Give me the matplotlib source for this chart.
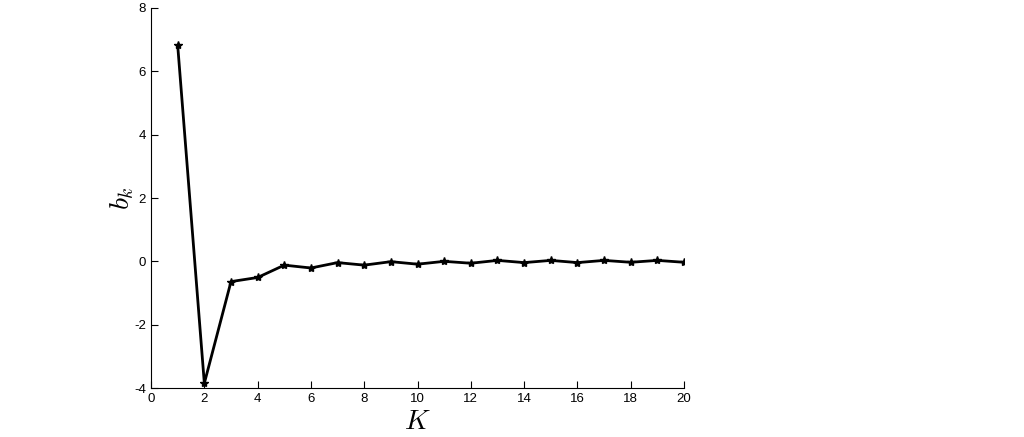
import matplotlib
matplotlib.use('Agg')
import matplotlib.pyplot as plt

# coefficient values
k = list(range(1, 21))
b_k = [6.82, -3.85, -0.64, -0.51, -0.12, -0.21, -0.04, -0.12, -0.01, -0.09,
       0.0, -0.06, 0.03, -0.04, 0.03, -0.04, 0.03, -0.03, 0.03, -0.03]

plt.rcParams['font.family'] = ['Liberation Sans', 'DejaVu Sans']
plt.rcParams['mathtext.fontset'] = 'cm'
plt.rcParams['axes.unicode_minus'] = False

fig = plt.figure(figsize=(10.24, 4.37), dpi=100)
ax = fig.add_axes([0.1475, 0.1121, 0.5205, 0.8696])

ax.plot(k, b_k, color='black', linewidth=2, marker='*', markersize=6)

ax.set_xlim(0, 20)
ax.set_ylim(-4, 8)
ax.set_xticks(range(0, 21, 2))
ax.set_yticks(range(-4, 9, 2))
ax.tick_params(direction='in', labelsize=9.5, length=5, width=0.8)
ax.spines['top'].set_visible(False)
ax.spines['right'].set_visible(False)

ax.set_xlabel('$K$', fontsize=20, labelpad=3)
ax.set_ylabel('$b_k$', fontsize=20, labelpad=-1)

fig.savefig('out.png', dpi=100)
